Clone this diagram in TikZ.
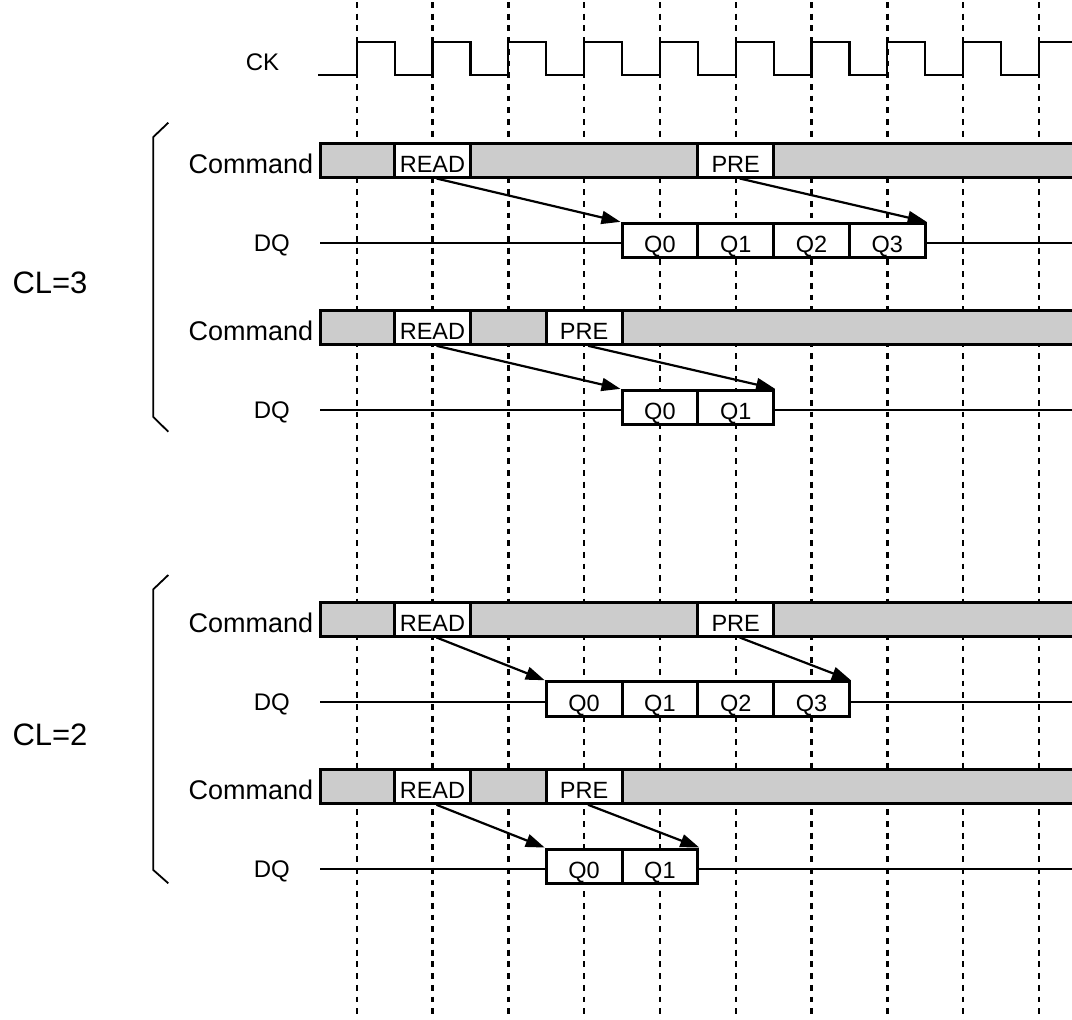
\documentclass[tikz,border=0pt]{standalone}
\usepackage{fontspec}
\setmainfont{Liberation Sans}
\usetikzlibrary{arrows.meta}
\definecolor{barfill}{HTML}{CCCCCC}
\tikzset{
  gridline/.style={line width=2.4pt, dash pattern=on 5.8pt off 5.9pt},
  sig/.style={line width=2.2pt},
  cmdbar/.style={draw, line width=3pt, fill=barfill},
  seg/.style={draw, line width=3pt, fill=white, minimum width=75.8pt, minimum height=34pt,
    inner sep=0pt, font=\fontsize{23.5}{28}\selectfont, text height=24pt, text depth=0pt},
  qbox/.style={seg, minimum height=34.5pt},
  lat/.style={line width=2.2pt, -{Triangle[length=19pt,width=13pt]}},
  brace/.style={line width=1.8pt},
  cmdlbl/.style={inner sep=0pt, anchor=base east, font=\fontsize{27}{32}\selectfont},
  dqlbl/.style={inner sep=0pt, anchor=base east, font=\fontsize{24}{29}\selectfont},
  cllbl/.style={inner sep=0pt, anchor=base, font=\fontsize{31}{36}\selectfont},
}
\begin{document}
\begin{tikzpicture}[x=1pt,y=-1pt]
\useasboundingbox (0,0) rectangle (1072,1020);
\clip (0,0) rectangle (1072,1020);
% dashed clock edges
\foreach \k in {1,3,...,19} \draw[gridline] ({318.8+37.9*\k},2) -- ++(0,1020);
% clock
\draw[sig] (318,75) \foreach \k in {0,...,9} { -- ({356.7+75.8*\k},75) -- ({356.7+75.8*\k},42.3) -- ({394.6+75.8*\k},42.3) -- ({394.6+75.8*\k},75) };
\node[dqlbl, font=\fontsize{24}{29}\selectfont] (ck) at (279.3,70) {CK};

% ---------- group CL=3 ----------
% row 1
\draw[sig] (320,243.3) -- (1080,243.3);
\draw[cmdbar] (320,143) rectangle (1090,177);
\node[seg] (r1) at (432.5,160) {READ};
\node[seg] (p1) at (735.7,160) {PRE};
\node[qbox] (a0) at (659.9,240.6) {Q0};
\node[qbox] (a1) at (735.7,240.6) {Q1};
\node[qbox] (a2) at (811.5,240.6) {Q2};
\node[qbox] (a3) at (887.3,240.6) {Q3};
\draw[lat] ([xshift=4pt]r1.south) -- (a0.north west);
\draw[lat] ([xshift=4pt]p1.south) -- (a3.north east);
\node[cmdlbl] (c1) at (313.3,173.2) {Command};
\node[dqlbl] (d1) at (290,251.6) {DQ};
% row 2
\draw[sig] (320,410.3) -- (1080,410.3);
\draw[cmdbar] (320,310.3) rectangle (1090,344.3);
\node[seg] (r2) at (432.5,327.3) {READ};
\node[seg] (p2) at (584.1,327.3) {PRE};
\node[qbox] (b0) at (659.9,407.6) {Q0};
\node[qbox] (b1) at (735.7,407.6) {Q1};
\draw[lat] ([xshift=4pt]r2.south) -- (b0.north west);
\draw[lat] ([xshift=4pt]p2.south) -- (b1.north east);
\node[cmdlbl] (c2) at (313.3,340.5) {Command};
\node[dqlbl] (d2) at (290,418.6) {DQ};
% brace
\draw[brace] (168.3,122.7) -- (153.3,137) -- (153.3,417) -- (168.3,431.7);
\node[cllbl] (cl3) at (50,293) {CL=3};

% ---------- group CL=2 ----------
% row 3
\draw[sig] (320,701.7) -- (1080,701.7);
\draw[cmdbar] (320,602) rectangle (1090,636);
\node[seg] (r3) at (432.5,619) {READ};
\node[seg] (p3) at (735.7,619) {PRE};
\node[qbox] (e0) at (584.1,699) {Q0};
\node[qbox] (e1) at (659.9,699) {Q1};
\node[qbox] (e2) at (735.7,699) {Q2};
\node[qbox] (e3) at (811.5,699) {Q3};
\draw[lat] ([xshift=4pt]r3.south) -- (e0.north west);
\draw[lat] ([xshift=4pt]p3.south) -- (e3.north east);
\node[cmdlbl] (c3) at (313.3,632.2) {Command};
\node[dqlbl] (d3) at (290,710) {DQ};
% row 4
\draw[sig] (320,869) -- (1080,869);
\draw[cmdbar] (320,769.3) rectangle (1090,803.3);
\node[seg] (r4) at (432.5,786.3) {READ};
\node[seg] (p4) at (584.1,786.3) {PRE};
\node[qbox] (f0) at (584.1,866.3) {Q0};
\node[qbox] (f1) at (659.9,866.3) {Q1};
\draw[lat] ([xshift=4pt]r4.south) -- (f0.north west);
\draw[lat] ([xshift=4pt]p4.south) -- (f1.north east);
\node[cmdlbl] (c4) at (313.3,799.5) {Command};
\node[dqlbl] (d4) at (290,877.3) {DQ};
% brace
\draw[brace] (168.3,575) -- (153.3,589.3) -- (153.3,870) -- (168.3,883.3);
\node[cllbl] (cl2) at (50,745) {CL=2};
\end{tikzpicture}
\end{document}
